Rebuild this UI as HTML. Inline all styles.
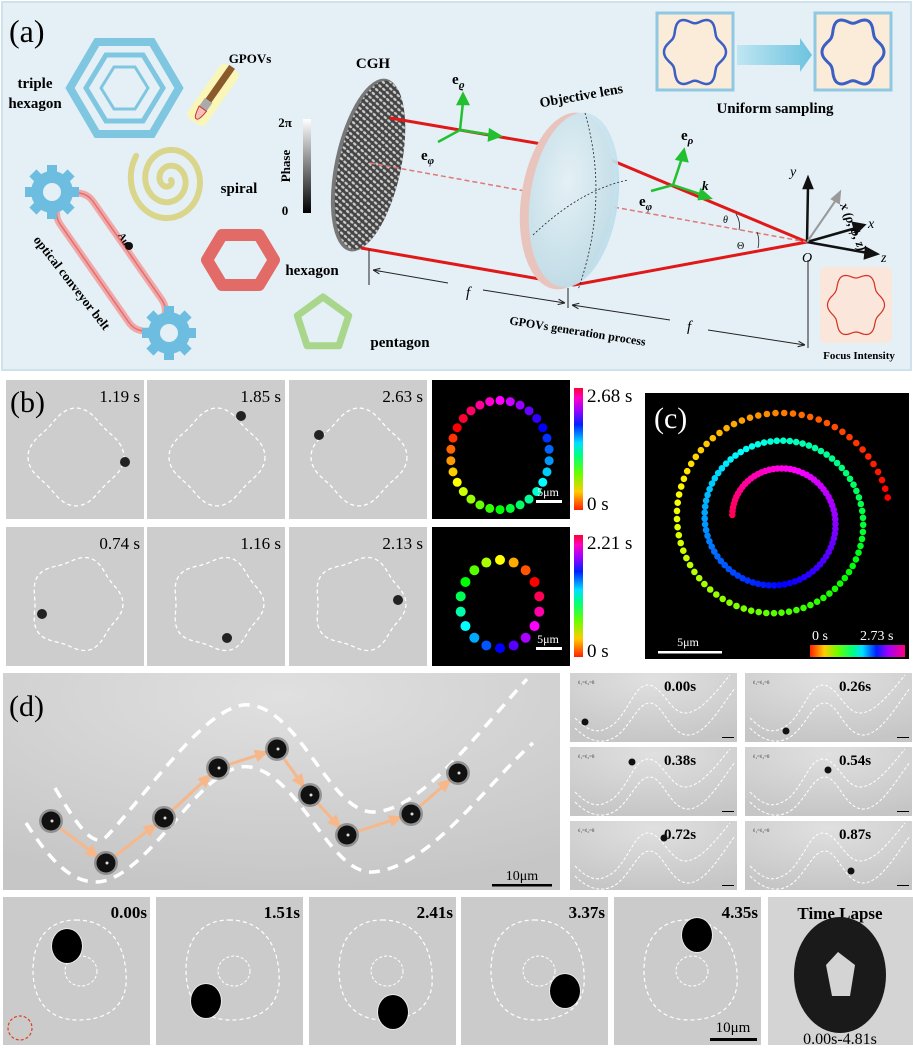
<!DOCTYPE html>
<html><head><meta charset="utf-8"><style>
html,body{margin:0;padding:0;background:#fff}
svg{display:block}
text{font-family:"Liberation Serif",serif}
</style></head><body>
<svg id="s" width="913" height="1048" viewBox="0 0 913 1048" xmlns="http://www.w3.org/2000/svg">
<defs>
<linearGradient id="gray" x1="0" y1="0" x2="0" y2="1"><stop offset="0" stop-color="#fff"/><stop offset="1" stop-color="#000"/></linearGradient>
<linearGradient id="rb" x1="0" y1="1" x2="0" y2="0">
<stop offset="0" stop-color="#ff2000"/><stop offset="0.15" stop-color="#ffcc00"/><stop offset="0.3" stop-color="#66ff00"/><stop offset="0.45" stop-color="#00ff80"/><stop offset="0.55" stop-color="#00e0ff"/><stop offset="0.7" stop-color="#0020ff"/><stop offset="0.82" stop-color="#a000ff"/><stop offset="0.92" stop-color="#ff00c0"/><stop offset="1" stop-color="#ff0030"/></linearGradient>
<linearGradient id="rbh" x1="0" y1="0" x2="1" y2="0">
<stop offset="0" stop-color="#ff2000"/><stop offset="0.15" stop-color="#ffcc00"/><stop offset="0.3" stop-color="#66ff00"/><stop offset="0.45" stop-color="#00ff80"/><stop offset="0.55" stop-color="#00e0ff"/><stop offset="0.7" stop-color="#0020ff"/><stop offset="0.82" stop-color="#a000ff"/><stop offset="1" stop-color="#ff0080"/></linearGradient>
<radialGradient id="lensg" cx="0.4" cy="0.4" r="0.7"><stop offset="0" stop-color="#e4f4fa"/><stop offset="1" stop-color="#b8dbe8"/></radialGradient>
<linearGradient id="arr" x1="0" x2="1"><stop offset="0" stop-color="#bfe6f2"/><stop offset="1" stop-color="#6cc3df"/></linearGradient>
<pattern id="cgh" width="5" height="5" patternUnits="userSpaceOnUse" patternTransform="rotate(30)"><rect width="5" height="5" fill="#444"/><ellipse cx="2.5" cy="2.5" rx="2" ry="1.2" fill="#ccc"/></pattern>
<radialGradient id="tg" cx="0.5" cy="0.1" r="0.9"><stop offset="0" stop-color="#e0e0e0"/><stop offset="1" stop-color="#c6c6c6"/></radialGradient>
<marker id="ah" viewBox="0 0 10 10" refX="10" refY="5" markerWidth="7" markerHeight="7" orient="auto-start-reverse"><path d="M0,1 L10,5 L0,9" fill="none" stroke="#222" stroke-width="1.5"/></marker>
</defs>

<!-- Panel a -->
<rect x="2" y="2" width="909" height="368" fill="#e4f0f6" stroke="#cfe2ec" stroke-width="2"/>
<text x="9" y="42" font-size="32">(a)</text>
<g fill="none" stroke="#7fc6e0">
<polygon points="70,88 97,42 152,42 179,88 152,134 97,134" stroke-width="8"/>
<polygon points="86,88 106,55 143,55 163,88 143,121 106,121" stroke-width="5"/>
<polygon points="101,88 114,67 135,67 148,88 135,109 114,109" stroke-width="3"/>
</g>
<text x="35" y="88" font-size="15" font-weight="bold" text-anchor="middle">triple</text>
<text x="35" y="108" font-size="15" font-weight="bold" text-anchor="middle">hexagon</text>
<text x="250" y="63" font-size="13" font-weight="bold" text-anchor="middle">GPOVs</text>
<g transform="rotate(-55 213 95)">
<rect x="180" y="84" width="66" height="22" rx="6" fill="#fff7a8" opacity="0.8"/>
<rect x="205" y="91" width="42" height="7" fill="#8a5a2b"/>
<rect x="196" y="90" width="10" height="9" fill="#aaa"/>
<path d="M196,90 Q183,92 184,95 Q183,98 196,99Z" fill="#f4c0b8" stroke="#c33" stroke-width="1"/>
</g>
<path id="spir" fill="none" stroke="#d9d68c" stroke-width="6" stroke-linecap="round"/>
<text x="239" y="193" font-size="15" font-weight="bold" text-anchor="middle">spiral</text>
<g transform="rotate(55 111 262)"><rect x="31" y="242" width="160" height="40" rx="20" fill="none" stroke="#f0a8a8" stroke-width="7"/><rect x="31" y="242" width="160" height="40" rx="20" fill="none" stroke="#e36f6f" stroke-width="1.5"/></g>
<g id="gears"></g>
<circle cx="129" cy="246" r="4" fill="#111"/>
<text x="118" y="235" font-size="10" font-weight="bold" transform="rotate(60 118 235)">Au</text>
<text x="33" y="240" font-size="13" font-weight="bold" transform="rotate(52 33 240)">optical conveyor belt</text>
<polygon points="207,260 222,235 259,235 274,260 259,285 222,285" fill="none" stroke="#e26b67" stroke-width="12" stroke-linejoin="round"/>
<text x="312" y="275" font-size="15" font-weight="bold" text-anchor="middle">hexagon</text>
<polygon id="pent" fill="none" stroke="#a8d68a" stroke-width="7" stroke-linejoin="round"/>
<text x="400" y="347" font-size="15" font-weight="bold" text-anchor="middle">pentagon</text>
<rect x="303" y="119" width="8" height="94" fill="url(#gray)"/>
<text x="285" y="127" font-size="13" font-weight="bold" text-anchor="middle">2π</text>
<text x="285" y="215" font-size="13" font-weight="bold" text-anchor="middle">0</text>
<text x="290" y="166" font-size="13" font-weight="bold" text-anchor="middle" transform="rotate(-90 290 166)">Phase</text>
<ellipse cx="368" cy="165" rx="33" ry="88" transform="rotate(12 368 165)" fill="#777"/>
<ellipse cx="370" cy="165" rx="31" ry="86" transform="rotate(12 370 165)" fill="url(#cgh)"/>
<text x="373" y="68" font-size="15" font-weight="bold" text-anchor="middle">CGH</text>
<polyline points="390,118 594,153 807,242" fill="none" stroke="#e01818" stroke-width="3"/>
<polyline points="361,248 574,285 807,242" fill="none" stroke="#e01818" stroke-width="3"/>
<line x1="370" y1="163" x2="807" y2="242" stroke="#e07878" stroke-width="1.5" stroke-dasharray="5,3"/>
<ellipse cx="567" cy="201" rx="46" ry="89" fill="#e8c4bc" transform="rotate(8 567 201)"/>
<ellipse cx="574" cy="200" rx="44" ry="88" fill="url(#lensg)" opacity="0.92" transform="rotate(8 574 200)"/>
<path d="M585,113 Q610,200 578,290" fill="none" stroke="#222" stroke-width="0.8" stroke-dasharray="2,2"/>
<path d="M533,235 Q580,190 628,180" fill="none" stroke="#222" stroke-width="0.8" stroke-dasharray="2,2"/>
<text x="582" y="100" font-size="14" font-weight="bold" text-anchor="middle" transform="rotate(-10 582 100)">Objective lens</text>
<g stroke="#22c030" stroke-width="2.5" fill="#22c030">
<line x1="460" y1="130" x2="463" y2="102"/><polygon points="458,104 463,94 468,104"/>
<line x1="460" y1="130" x2="492" y2="135"/><polygon points="490,130 500,136 489,140"/>
<line x1="460" y1="130" x2="438" y2="142"/>
<line x1="673" y1="185" x2="682" y2="158"/><polygon points="677,159 684,150 687,161"/>
<line x1="673" y1="185" x2="703" y2="195"/><polygon points="701,190 710,198 699,199"/>
<line x1="673" y1="185" x2="651" y2="191"/>
</g>
<text x="452" y="84" font-size="15" font-weight="bold">e<tspan font-size="11" font-style="italic" dy="4">ϱ</tspan></text>
<text x="421" y="160" font-size="15" font-weight="bold">e<tspan font-size="11" font-style="italic" dy="4">φ</tspan></text>
<text x="681" y="140" font-size="15" font-weight="bold">e<tspan font-size="11" font-style="italic" dy="4">ρ</tspan></text>
<text x="639" y="206" font-size="15" font-weight="bold">e<tspan font-size="11" font-style="italic" dy="4">φ</tspan></text>
<text x="702" y="190" font-size="13" font-weight="bold" font-style="italic">k</text>
<g stroke="#111" stroke-width="2.5" fill="#111">
<line x1="807" y1="242" x2="808" y2="186"/><polygon points="804,188 808,178 812,188"/>
<line x1="807" y1="242" x2="868" y2="253"/><polygon points="866,248 877,254 865,258"/>
<line x1="807" y1="242" x2="856" y2="228"/><polygon points="853,223 864,225 856,233"/>
</g>
<g stroke="#999" stroke-width="2" fill="#999"><line x1="807" y1="242" x2="836" y2="200"/><polygon points="832,199 840,192 839,203"/></g>
<text x="790" y="176" font-size="14" font-style="italic">y</text>
<text x="868" y="228" font-size="14" font-style="italic">x</text>
<text x="881" y="262" font-size="14" font-style="italic">z</text>
<text x="802" y="262" font-size="14" font-style="italic">O</text>
<text x="840" y="205" font-size="13" font-style="italic" transform="rotate(68 840 205)" font-weight="bold">x (ρ, ϕ, z)</text>
<text x="723" y="223" font-size="10" font-style="italic">θ</text>
<text x="737" y="249" font-size="10">Θ</text>
<path d="M736,214 Q741,222 739,230" fill="none" stroke="#222" stroke-width="0.8"/>
<path d="M757,232 Q760,240 758,248" fill="none" stroke="#222" stroke-width="0.8"/>
<g stroke="#222" stroke-width="1" fill="none">
<line x1="369" y1="250" x2="369" y2="285"/><line x1="568" y1="288" x2="568" y2="308"/><line x1="808" y1="260" x2="808" y2="348"/>
<line x1="448" y1="283" x2="373" y2="270" marker-end="url(#ah)"/><line x1="483" y1="290" x2="565" y2="303" marker-end="url(#ah)"/>
<line x1="670" y1="320" x2="572" y2="305" marker-end="url(#ah)"/><line x1="708" y1="330" x2="805" y2="345" marker-end="url(#ah)"/>
</g>
<text x="466" y="297" font-size="15" font-style="italic">f</text>
<text x="687" y="331" font-size="15" font-style="italic">f</text>
<text x="577" y="335" font-size="12" font-weight="bold" text-anchor="middle" transform="rotate(9 577 335)">GPOVs generation process</text>
<rect x="657" y="13" width="76" height="77" fill="#fbecd9" stroke="#8fc8e3" stroke-width="3"/>
<rect x="815" y="13" width="76" height="77" fill="#fbecd9" stroke="#8fc8e3" stroke-width="3"/>
<path id="fl1" fill="none" stroke="#3b5fc4" stroke-width="2.5"/>
<path id="fl2" fill="none" stroke="#3b5fc4" stroke-width="3"/>
<polygon points="737,45 800,45 800,38 812,55 800,72 800,65 737,65" fill="url(#arr)"/>
<text x="775" y="113" font-size="15" font-weight="bold" text-anchor="middle">Uniform sampling</text>
<rect x="820" y="267" width="72" height="76" rx="6" fill="#fbe6dc"/>
<path id="fl3" fill="none" stroke="#d43020" stroke-width="1.2"/>
<text x="859" y="359" font-size="11" font-weight="bold" text-anchor="middle">Focus Intensity</text>

<g id="btiles"></g>
<text x="10" y="412" font-size="30">(b)</text>
<rect x="645" y="393" width="264" height="266" fill="#000"/>
<text x="654" y="428" font-size="30" fill="#fff">(c)</text>
<g id="cdots"></g>
<rect x="810" y="645" width="95" height="12" fill="url(#rbh)"/>
<text x="812" y="640" font-size="14" fill="#fff">0 s</text>
<text x="860" y="640" font-size="14" fill="#fff">2.73 s</text>
<rect x="658" y="651" width="64" height="2.5" fill="#fff"/>
<text x="688" y="646" font-size="12" fill="#fff" text-anchor="middle">5μm</text>

<rect x="3" y="673" width="557" height="217" fill="url(#tg)"/>
<text x="9" y="716" font-size="30">(d)</text>
<path d="M55,788 C80,830 95,850 108,835 C150,790 210,700 250,705 C300,710 330,812 373,812 C420,812 480,730 527,679" fill="none" stroke="#fff" stroke-width="3.5" stroke-dasharray="11,8"/>
<path d="M26,823 C50,860 75,890 108,880 C160,860 205,760 250,767 C300,775 330,875 373,872 C430,868 490,780 533,743" fill="none" stroke="#fff" stroke-width="3.5" stroke-dasharray="11,8"/>
<g stroke="#f6b88a" stroke-width="3" fill="#f6b88a" id="darr"></g>
<g id="dp"></g>
<rect x="492" y="884" width="60" height="2.5" fill="#000"/>
<text x="522" y="880" font-size="14" text-anchor="middle">10μm</text>
<g id="smalls"></g>
<g id="bottom"></g>
</svg>
<script>
const NS="http://www.w3.org/2000/svg",S=document.getElementById('s');
function el(t,a,p){const e=document.createElementNS(NS,t);for(const k in a)e.setAttribute(k,a[k]);(p||S).appendChild(e);return e;}
function txt(x,y,s,a,p){const e=el('text',Object.assign({x:x,y:y},a),p);e.textContent=s;return e;}
let d='';for(let t=0;t<=5.2*Math.PI;t+=0.1){const r=2+t*2.3;const x=169+r*Math.cos(t),y=180+r*1.1*Math.sin(t);d+=(d?'L':'M')+x.toFixed(1)+','+y.toFixed(1);}
document.getElementById('spir').setAttribute('d',d);
const G=document.getElementById('gears');
[[52,192],[169,333]].forEach(([cx,cy])=>{for(let i=0;i<8;i++){const a=i*45;el('rect',{x:cx-5,y:cy-27,width:10,height:10,fill:'#6cbde0',transform:`rotate(${a} ${cx} ${cy})`},G);}
el('circle',{cx,cy,r:21,fill:'#6cbde0'},G);el('circle',{cx,cy,r:9,fill:'#e4f0f6'},G);});
let p=[];for(let i=0;i<5;i++){const a=-Math.PI/2+i*2*Math.PI/5;p.push((323+27*Math.cos(a)).toFixed(1)+','+(324+27*Math.sin(a)).toFixed(1));}
document.getElementById('pent').setAttribute('points',p.join(' '));
function flower(id,cx,cy,r,amp,sx,sy){let d='';for(let t=0;t<=6.3;t+=0.05){const rr=r+amp*Math.cos(6*t);d+=(d?'L':'M')+(cx+rr*Math.cos(t)*sx).toFixed(1)+','+(cy+rr*Math.sin(t)*sy).toFixed(1);}document.getElementById(id).setAttribute('d',d+'Z');}
flower('fl1',695,52,28,3,1,1.15);flower('fl2',853,52,28,3,1,1.15);flower('fl3',856,305,26,2.5,1,1.15);
const B=document.getElementById('btiles');
const xs=[6,147,289],tw=138;
const rows=[[380,['1.19 s','1.85 s','2.63 s'],[[125,462],[241,416],[319,435]]],[527,['0.74 s','1.16 s','2.13 s'],[[42,614],[227,638],[398,600]]]];
rows.forEach(([y0,ts,ps],ri)=>{
 xs.forEach((x0,i)=>{el('rect',{x:x0,y:y0,width:tw,height:139,fill:'#cdcdcd'},B);
  let cx=x0+70,cy=y0+77;
  let dd='';for(let t=0;t<=6.3;t+=0.05){const rr=ri==0?44+4*Math.cos(4*t):44+3*Math.cos(5*t);dd+=(dd?'L':'M')+(cx+rr*Math.cos(t)).toFixed(1)+','+(cy+rr*1.02*Math.sin(t)).toFixed(1);}
  el('path',{d:dd+'Z',fill:'none',stroke:'#fff','stroke-width':1.3,'stroke-dasharray':'4,3'},B);
  txt(x0+tw-4,y0+22,ts[i],{'font-size':17,'text-anchor':'end'},B);
  el('circle',{cx:ps[i][0],cy:ps[i][1],r:5,fill:'#222'},B);
 });
 const bx=432;el('rect',{x:bx,y:y0,width:138,height:139,fill:'#000'},B);
 const n=ri==0?30:18,cx=bx+68,cy=y0+(ri==0?75:77),R=ri==0?52:42;
 for(let i=0;i<n;i++){const f=i/n;const a=-Math.PI/2+f*2*Math.PI;
  const h=((ri==0?300:60)-f*360+720)%360;
  el('circle',{cx:cx+R*Math.cos(a)*0.95,cy:cy+R*Math.sin(a)*1.05,r:ri==0?4.5:5,fill:`hsl(${h},100%,50%)`},B);}
 el('rect',{x:536,y:y0+120,width:26,height:3,fill:'#fff'},B);
 txt(548,y0+116,'5μm',{'font-size':12,fill:'#fff','text-anchor':'middle'},B);
 el('rect',{x:574,y:y0+8,width:9,height:122,fill:'url(#rb)'},B);
 txt(587,y0+22,ri==0?'2.68 s':'2.21 s',{'font-size':19},B);
 txt(587,y0+130,'0 s',{'font-size':19},B);
});
const C=document.getElementById('cdots');
const N=190,turns=2.45,cx=777,cy=520,Rmax=113,Rmin=45,th0=0.2;
for(let i=0;i<N;i++){const s=i/(N-1);const r=Rmax-s*(Rmax-Rmin);const th=th0+s*turns*2*Math.PI;
 el('circle',{cx:(cx+r*Math.cos(th)).toFixed(1),cy:(cy-r*Math.sin(th)).toFixed(1),r:3.3,fill:`hsl(${(s*340)%360},100%,50%)`},C);}
const P=document.getElementById('dp'),DA=document.getElementById('darr');
const pts=[[51,821],[106,863],[164,818],[218,768],[277,749],[310,795],[347,835],[411,814],[458,773]];
for(let i=0;i<pts.length-1;i++){const [x1,y1]=pts[i],[x2,y2]=pts[i+1];const dx=x2-x1,dy=y2-y1,L=Math.hypot(dx,dy),ux=dx/L,uy=dy/L;
 const sx=x1+ux*12,sy=y1+uy*12,ex=x2-ux*12,ey=y2-uy*12;el('line',{x1:sx,y1:sy,x2:ex-ux*6,y2:ey-uy*6},DA);
 el('polygon',{points:`${ex},${ey} ${ex-ux*9-uy*4},${ey-uy*9+ux*4} ${ex-ux*9+uy*4},${ey-uy*9-ux*4}`},DA);}
pts.forEach(([x,y])=>{el('circle',{cx:x,cy:y,r:12,fill:'#555',opacity:0.5},P);el('circle',{cx:x,cy:y,r:9.5,fill:'#111'},P);el('circle',{cx:x+1,cy:y,r:1.5,fill:'#ddd'},P);});
const SM=document.getElementById('smalls');
const sx=[570,745],sy=[673,747,821],stt=['0.00s','0.26s','0.38s','0.54s','0.72s','0.87s'];
const sp=[[585,722],[786,731],[632,762],[828,770],[664,838],[851,871]];
let k=0;
sy.forEach(y0=>sx.forEach(x0=>{el('rect',{x:x0,y:y0,width:167,height:69,fill:'url(#tg)'},SM);
 const u=(a,b)=>`${x0+a},${y0+b}`;
 el('path',{d:`M${u(5,45)} C${u(20,60)} ${u(30,62)} ${u(45,50)} C${u(60,35)} ${u(65,12)} ${u(78,12)} C${u(92,12)} ${u(100,40)} ${u(115,40)} C${u(130,40)} ${u(145,20)} ${u(160,2)}`,fill:'none',stroke:'#fff','stroke-width':1,'stroke-dasharray':'3,2'},SM);
 el('path',{d:`M${u(5,55)} C${u(20,70)} ${u(35,72)} ${u(48,62)} C${u(62,50)} ${u(68,30)} ${u(80,30)} C${u(93,30)} ${u(100,62)} ${u(118,62)} C${u(135,62)} ${u(150,35)} ${u(165,15)}`,fill:'none',stroke:'#fff','stroke-width':1,'stroke-dasharray':'3,2'},SM);
 txt(x0+110,y0+18,stt[k],{'font-size':15,'font-weight':'bold','text-anchor':'middle'},SM);
 txt(x0+8,y0+11,'ℓ₁=ℓ₂=0',{'font-size':5,fill:'#333'},SM);
 el('rect',{x:x0+152,y:y0+64,width:12,height:1,fill:'#000'},SM);
 el('circle',{cx:sp[k][0],cy:sp[k][1],r:3.5,fill:'#111'},SM);k++;}));
const BT=document.getElementById('bottom');
const bx=[3,156,309,461,614],bl=['0.00s','1.51s','2.41s','3.37s','4.35s'];
const bp=[[67,946],[206,1001],[393,1012],[565,991],[697,935]];
bx.forEach((x0,i)=>{el('rect',{x:x0,y:897,width:147,height:148,fill:'#cbcbcb'},BT);
 el('path',{d:`M${x0+73},920 C${x0+110},920 ${x0+125},950 ${x0+123},985 C${x0+120},1010 ${x0+100},1020 ${x0+75},1020 C${x0+45},1020 ${x0+30},1000 ${x0+30},970 C${x0+30},940 ${x0+45},920 ${x0+73},920Z`,fill:'none',stroke:'#fff','stroke-width':1.2,'stroke-dasharray':'4,3'},BT);
 el('ellipse',{cx:x0+78,cy:971,rx:16,ry:15,fill:'none',stroke:'#fff','stroke-width':1,'stroke-dasharray':'3,2'},BT);
 txt(x0+144,918,bl[i],{'font-size':17,'font-weight':'bold','text-anchor':'end'},BT);
 el('ellipse',{cx:bp[i][0],cy:bp[i][1],rx:16,ry:18,fill:'#fff',opacity:0.6},BT);
 el('ellipse',{cx:bp[i][0],cy:bp[i][1],rx:15,ry:17,fill:'#000'},BT);});
el('circle',{cx:20,cy:1028,r:12,fill:'none',stroke:'#e04020','stroke-width':1.2,'stroke-dasharray':'3,2'},BT);
el('rect',{x:710,y:1038,width:47,height:3,fill:'#000'},BT);
txt(733,1032,'10μm',{'font-size':15,'text-anchor':'middle'},BT);
el('rect',{x:768,y:897,width:145,height:148,fill:'#d4d4d4'},BT);
txt(840,919,'Time Lapse',{'font-size':17,'font-weight':'bold','text-anchor':'middle'},BT);
el('ellipse',{cx:840,cy:975,rx:46,ry:58,fill:'#1a1a1a'},BT);
el('polygon',{points:'838,952 855,965 850,996 832,996 826,965',fill:'#d4d4d4'},BT);
txt(840,1044,'0.00s-4.81s',{'font-size':16,'text-anchor':'middle'},BT);
</script>
</body></html>
